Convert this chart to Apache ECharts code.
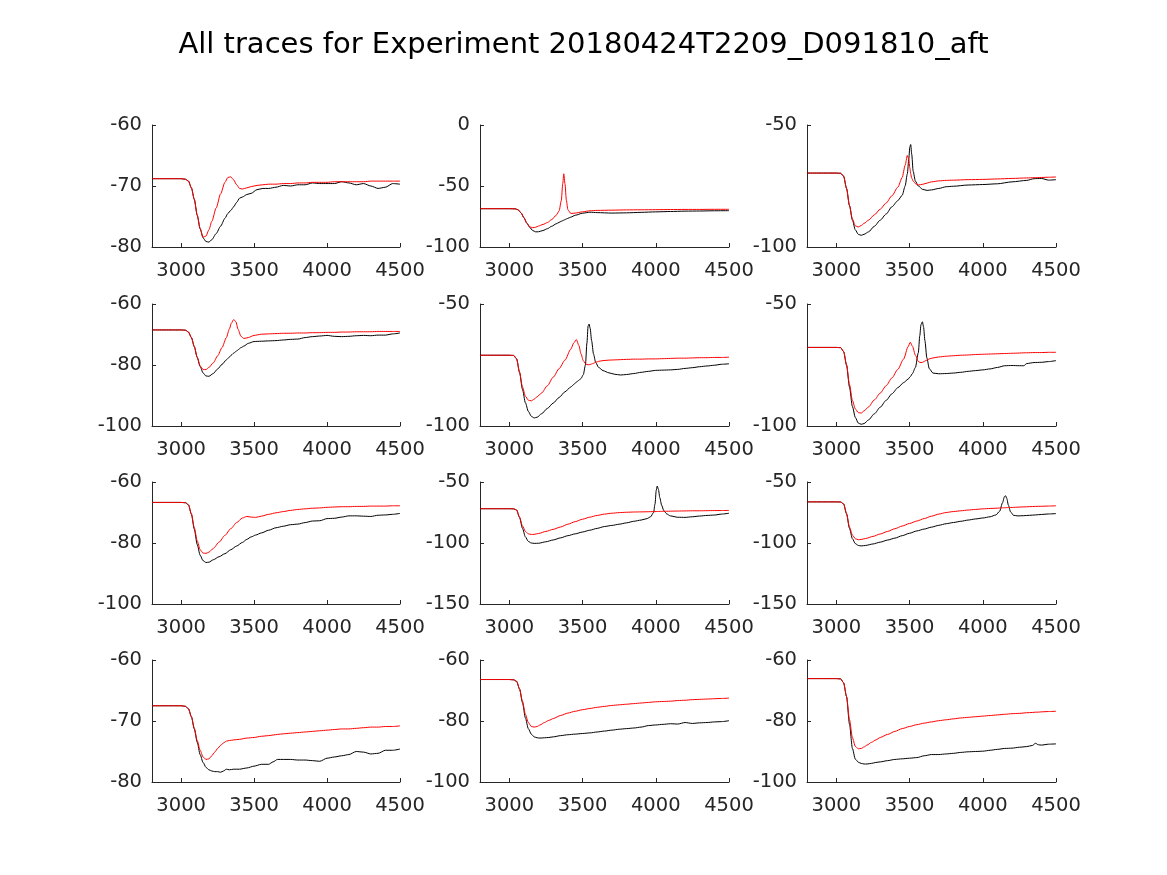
<!DOCTYPE html>
<html>
<head>
<meta charset="utf-8">
<script src="https://cdn.jsdelivr.net/npm/echarts@6/dist/echarts.min.js"></script>
<style>
html,body{margin:0;padding:0;background:#fff;}
#chart{width:1167px;height:875px;}
</style>
</head>
<body>
<div id="chart"></div>
<script>
const TITLE = "All traces for Experiment 20180424T2209_D091810_aft";
const X_TICKS = [3000, 3500, 4000, 4500];
const X_MIN = 2800, X_MAX = 4500;

// Panel 1 (row 1, col 1)
const x1 = [2800,3000,3030,3050,3070,3090,3110,3130,3150,3170,3190,3210,3240,3270,3300,3320,3340,3360,3380,3400,3420,3450,3480,3520,3560,3600,3650,3700,3750,3800,3850,3900,3950,4000,4050,4100,4150,4200,4250,4300,4350,4400,4450,4500];
const black1 = [-68.8,-68.8,-68.9,-69.2,-70.3,-72.2,-74.8,-77.0,-78.5,-79.1,-79.2,-78.8,-77.8,-76.6,-75.3,-74.5,-74.0,-73.4,-72.7,-72.0,-71.8,-71.4,-71.2,-70.6,-70.4,-70.4,-70.2,-69.9,-70.0,-69.8,-69.8,-69.5,-69.6,-69.6,-69.6,-69.3,-69.5,-69.8,-69.6,-70.0,-70.4,-70.2,-69.6,-69.7];
const red1 = [-68.8,-68.8,-68.9,-69.2,-70.3,-72.2,-74.8,-77.0,-78.4,-78.2,-77.2,-75.8,-73.6,-71.3,-69.4,-68.6,-68.5,-69.0,-69.8,-70.4,-70.5,-70.3,-70.1,-69.9,-69.8,-69.7,-69.7,-69.6,-69.6,-69.5,-69.5,-69.4,-69.4,-69.4,-69.3,-69.3,-69.3,-69.3,-69.3,-69.2,-69.2,-69.2,-69.2,-69.2];

// Panel 2 (row 1, col 2)
const x2 = [2800,3000,3040,3060,3080,3100,3120,3140,3160,3180,3200,3230,3260,3290,3320,3340,3355,3365,3372,3380,3390,3400,3420,3450,3500,3550,3600,3700,3800,3900,4000,4100,4200,4300,4400,4500];
const black2 = [-68.6,-68.6,-68.7,-69.5,-72,-76,-80.5,-84,-86.5,-87.6,-87.5,-86.5,-85,-83,-81,-79.8,-78.9,-78.4,-78.0,-77.6,-77.0,-76.5,-75.5,-74,-72.3,-71.5,-71.8,-72.2,-72.0,-71.6,-71.2,-70.9,-70.6,-70.5,-70.3,-70.2];
const red2 = [-68.6,-68.6,-68.7,-69.5,-72,-76,-80.5,-83.5,-84.2,-83.8,-82.8,-81.5,-80.0,-77.5,-74.0,-70.5,-62,-48,-40,-48,-62,-69.5,-72.5,-72.2,-71.2,-70.3,-70.0,-69.8,-69.6,-69.5,-69.4,-69.3,-69.2,-69.2,-69.1,-69.1];

// Panel 3 (row 1, col 3)
const x3 = [2800,3000,3030,3050,3070,3090,3110,3130,3150,3170,3190,3220,3260,3300,3340,3380,3420,3450,3470,3485,3495,3502,3508,3515,3525,3540,3560,3590,3620,3650,3700,3750,3800,3900,4000,4100,4200,4300,4350,4400,4450,4500];
const black3 = [-69.7,-69.7,-69.8,-71,-76,-83,-89,-93,-94.8,-95.2,-94.8,-93.8,-91.5,-89,-86.5,-83.5,-81,-78.8,-75,-70,-64,-59,-58,-62,-69,-73,-75,-76.4,-76.8,-76.6,-76,-75.3,-75.1,-74.6,-74.4,-74.1,-73.3,-72.7,-72.0,-71.9,-72.6,-72.4];
const red3 = [-69.7,-69.7,-69.8,-71,-76,-83,-88.5,-91.3,-91.8,-91.2,-90.3,-89.0,-86.8,-84.5,-82,-79,-75.5,-71.5,-66.5,-62.5,-64,-67.5,-70,-71.8,-73,-74,-74.6,-74.3,-73.8,-73.3,-72.9,-72.7,-72.6,-72.4,-72.3,-72.1,-71.9,-71.7,-71.6,-71.5,-71.4,-71.3];

// Panel 4 (row 2, col 1)
const x4 = [2800,3000,3030,3050,3070,3090,3110,3130,3150,3170,3190,3220,3250,3280,3310,3330,3345,3360,3375,3390,3410,3430,3460,3500,3550,3600,3650,3700,3750,3800,3850,3900,3950,4000,4050,4100,4150,4200,4250,4300,4350,4400,4450,4500];
const black4 = [-68.5,-68.5,-68.6,-69.2,-71,-74,-77.5,-80.5,-82.6,-83.6,-83.7,-82.8,-81.3,-79.8,-78.3,-77.4,-76.7,-76.1,-75.6,-75.0,-74.3,-73.8,-72.9,-72.3,-72.2,-72.1,-72.0,-71.8,-71.6,-71.5,-71.0,-70.7,-70.5,-70.3,-70.6,-70.7,-70.6,-70.4,-70.3,-70.4,-70.2,-70.2,-69.8,-69.5];
const red4 = [-68.5,-68.5,-68.6,-69.2,-71,-74,-77.5,-80.3,-81.5,-81.5,-80.8,-79.3,-77,-74.3,-71,-68.2,-66.2,-65.1,-65.8,-68.3,-70.6,-71.3,-71.0,-70.3,-69.9,-69.8,-69.7,-69.6,-69.6,-69.5,-69.5,-69.4,-69.4,-69.3,-69.3,-69.2,-69.2,-69.1,-69.1,-69.1,-69.0,-69.0,-69.0,-69.0];

// Panel 5 (row 2, col 2)
const x5 = [2800,3000,3030,3050,3070,3090,3110,3130,3150,3170,3190,3220,3260,3300,3340,3380,3420,3440,3458,3475,3490,3505,3520,3530,3538,3545,3552,3562,3575,3590,3610,3640,3680,3720,3760,3800,3850,3900,3950,4000,4050,4100,4150,4200,4250,4300,4350,4400,4450,4500];
const black5 = [-71,-71,-71.1,-72.5,-78,-85,-90.5,-94,-96,-96.7,-96.4,-95,-92.8,-90.6,-88.3,-86,-84,-83,-82,-81.3,-80.5,-79,-75,-66,-59,-58.2,-60,-65,-70.5,-74,-76,-77.3,-78.2,-78.8,-79.1,-78.9,-78.5,-78.0,-77.6,-77.2,-77.1,-77.0,-76.8,-76.4,-76.1,-75.7,-75.4,-75.1,-74.7,-74.5];
const red5 = [-71,-71,-71.1,-72.5,-78,-84,-87.8,-89.4,-89.7,-89,-88,-86.5,-83.5,-80,-76.5,-73,-68.5,-66,-64.6,-67,-70.5,-73.2,-74.5,-74.8,-74.9,-74.9,-74.8,-74.6,-74.3,-73.9,-73.5,-73.2,-73.0,-72.9,-72.8,-72.7,-72.6,-72.6,-72.5,-72.5,-72.4,-72.3,-72.2,-72.2,-72.1,-72.0,-72.0,-71.9,-71.9,-71.8];

// Panel 6 (row 2, col 3)
const x6 = [2800,3000,3030,3050,3070,3090,3110,3130,3150,3170,3190,3220,3260,3300,3340,3380,3420,3460,3490,3505,3520,3540,3560,3570,3578,3588,3596,3605,3618,3635,3660,3700,3750,3800,3850,3900,3950,4000,4050,4100,4150,4200,4250,4280,4300,4350,4400,4450,4500];
const black6 = [-67.8,-67.8,-67.9,-69.5,-75,-84,-92,-96.5,-98.8,-99.3,-99.0,-97.5,-95,-92.3,-89.5,-86.8,-84.3,-82.2,-80.8,-79.8,-78.5,-76,-70,-63,-58.5,-57.3,-59.5,-65,-72,-76.5,-78.3,-78.6,-78.5,-78.3,-78.0,-77.6,-77.3,-77.0,-76.6,-76.0,-75.3,-75.2,-75.3,-75.3,-74.4,-74.0,-73.9,-73.6,-73.2];
const red6 = [-67.8,-67.8,-67.9,-69.5,-75,-83,-89.5,-93,-94.5,-94.7,-93.8,-92.2,-89.3,-86.5,-83.5,-80.3,-76.8,-72.5,-67.5,-65.7,-67.3,-71,-73.5,-73.9,-74.0,-73.9,-73.7,-73.4,-73.0,-72.5,-72.1,-71.7,-71.4,-71.2,-71.0,-70.9,-70.7,-70.6,-70.5,-70.4,-70.3,-70.2,-70.1,-70.0,-70.0,-69.9,-69.9,-69.8,-69.8];

// Panel 7 (row 3, col 1)
const x7 = [2800,3000,3030,3050,3070,3090,3110,3130,3150,3170,3190,3220,3260,3300,3340,3380,3420,3450,3480,3510,3550,3600,3650,3700,3750,3800,3850,3900,3950,4000,4050,4100,4150,4200,4250,4300,4350,4400,4450,4500];
const black7 = [-66.7,-66.7,-66.8,-67.5,-70.5,-75.5,-80.5,-84,-85.8,-86.4,-86.3,-85.5,-84.5,-83.5,-82.2,-81,-79.8,-78.8,-78.0,-77.4,-76.7,-75.8,-75.0,-74.5,-74.0,-73.8,-73.3,-72.8,-72.7,-72.0,-71.9,-71.5,-71.1,-71.1,-71.2,-71.3,-70.9,-70.8,-70.6,-70.3];
const red7 = [-66.7,-66.7,-66.8,-67.5,-70.5,-75,-79.3,-82.2,-83.3,-83.4,-83.0,-81.8,-79.7,-77.5,-75.3,-73.3,-71.8,-71.3,-71.5,-71.6,-71.2,-70.6,-70.1,-69.7,-69.3,-69.0,-68.8,-68.6,-68.5,-68.3,-68.2,-68.1,-68.1,-68.0,-68.0,-67.9,-67.9,-67.9,-67.8,-67.8];

// Panel 8 (row 3, col 2)
const x8 = [2800,3000,3030,3050,3070,3090,3110,3130,3150,3170,3200,3250,3300,3350,3400,3450,3500,3550,3600,3650,3700,3750,3800,3850,3900,3940,3965,3985,3995,4003,4010,4018,4028,4040,4055,4075,4100,4150,4200,4250,4300,4350,4400,4450,4500];
const black8 = [-71.9,-71.9,-72,-73,-79,-88,-95,-98.7,-100,-100.3,-100.2,-99,-97.5,-95.8,-94,-92.5,-91,-89.5,-88,-86.5,-85.6,-84.6,-83.5,-82.2,-81.2,-80,-78.5,-75,-68,-57,-53.3,-56,-63,-69,-73.5,-76.2,-77.8,-78.9,-79.0,-78.5,-77.9,-77.4,-77.1,-76.3,-75.6];
const red8 = [-71.9,-71.9,-72,-73,-79,-86,-90.5,-92.5,-93,-92.9,-92.2,-90.5,-88.8,-86.9,-84.6,-82.5,-80.5,-78.8,-77.4,-76.3,-75.6,-75.1,-74.8,-74.6,-74.5,-74.4,-74.3,-74.3,-74.3,-74.2,-74.2,-74.2,-74.1,-74.1,-74.0,-74.0,-73.9,-73.8,-73.7,-73.6,-73.6,-73.5,-73.4,-73.4,-73.3];

// Panel 9 (row 3, col 3)
const x9 = [2800,3000,3030,3050,3070,3090,3110,3130,3150,3170,3200,3250,3300,3350,3400,3450,3500,3550,3600,3650,3700,3750,3800,3850,3900,3950,4000,4050,4090,4115,4135,4148,4156,4164,4175,4190,4210,4240,4280,4320,4360,4400,4450,4500];
const black9 = [-66.3,-66.3,-66.4,-68,-76,-88,-96.5,-100.5,-102,-102.4,-102.0,-100.8,-99.3,-97.6,-96.0,-94.0,-92.0,-90.1,-88.6,-87.0,-85.5,-84.2,-83.2,-82.2,-81.2,-80.3,-79.5,-78.5,-77,-74,-67,-62,-61.3,-63.5,-69,-74.5,-77.3,-77.8,-77.6,-77.3,-77.0,-76.6,-76.2,-75.9];
const red9 = [-66.3,-66.3,-66.4,-68,-76,-87,-93.5,-96.5,-97.3,-97.1,-96.3,-94.6,-92.6,-90.5,-88.3,-86.1,-84.0,-82.0,-80.0,-78.0,-76.3,-75.0,-74.2,-73.6,-73.0,-72.5,-72.0,-71.7,-71.5,-71.3,-71.2,-71.1,-71.1,-71.0,-71.0,-70.9,-70.8,-70.6,-70.4,-70.2,-70.0,-69.9,-69.7,-69.5];

// Panel 10 (row 4, col 1)
const x10 = [2800,3000,3030,3050,3070,3090,3110,3130,3150,3170,3190,3210,3230,3250,3270,3290,3310,3330,3360,3400,3450,3500,3550,3600,3630,3660,3700,3750,3800,3850,3900,3950,4000,4050,4100,4150,4200,4250,4300,4350,4400,4450,4500];
const black10 = [-67.5,-67.5,-67.6,-68,-69.3,-71.3,-73.5,-75.5,-76.8,-77.6,-78.0,-78.2,-78.3,-78.3,-78.4,-78.2,-77.9,-78.0,-77.9,-77.9,-77.7,-77.4,-77.1,-77.1,-76.7,-76.3,-76.3,-76.3,-76.4,-76.4,-76.5,-76.6,-76.1,-75.9,-75.7,-75.5,-75.0,-75.1,-75.4,-75.3,-74.8,-74.8,-74.6];
const red10 = [-67.5,-67.5,-67.6,-68,-69.3,-71.2,-73.2,-74.8,-75.9,-76.3,-76.2,-75.7,-75.1,-74.5,-74.0,-73.6,-73.3,-73.2,-73.1,-73.0,-72.8,-72.7,-72.5,-72.4,-72.3,-72.2,-72.1,-72.0,-71.9,-71.8,-71.7,-71.6,-71.5,-71.4,-71.3,-71.3,-71.2,-71.1,-71.0,-71.0,-70.9,-70.9,-70.8];

// Panel 11 (row 4, col 2)
const x11 = [2800,3000,3030,3050,3070,3090,3110,3130,3150,3170,3190,3210,3240,3270,3300,3350,3400,3450,3500,3550,3600,3650,3700,3750,3800,3850,3900,3950,4000,4050,4100,4150,4200,4250,4300,4350,4400,4450,4500];
const black11 = [-66.4,-66.4,-66.5,-67,-69.5,-74,-79,-82.5,-84.3,-85.2,-85.5,-85.6,-85.5,-85.4,-85.2,-84.8,-84.5,-84.3,-84.1,-83.9,-83.6,-83.3,-83.0,-82.7,-82.5,-82.3,-82.0,-81.5,-81.3,-81.1,-80.9,-81.0,-80.5,-80.8,-80.6,-80.5,-80.3,-80.2,-79.9];
const red11 = [-66.4,-66.4,-66.5,-67,-69.5,-73.5,-77.8,-80.5,-81.8,-82.0,-81.8,-81.3,-80.5,-79.8,-79.2,-78.2,-77.4,-76.8,-76.3,-75.9,-75.5,-75.2,-74.9,-74.7,-74.5,-74.3,-74.1,-73.9,-73.7,-73.6,-73.5,-73.3,-73.2,-73.0,-72.9,-72.8,-72.7,-72.6,-72.5];

// Panel 12 (row 4, col 3)
const x12 = [2800,3000,3030,3050,3070,3090,3110,3130,3150,3170,3190,3210,3240,3270,3300,3350,3400,3450,3500,3550,3600,3650,3700,3750,3800,3850,3900,3950,4000,4050,4100,4150,4200,4250,4300,4340,4360,4380,4400,4450,4500];
const black12 = [-66.1,-66.1,-66.2,-67.5,-72,-81,-89,-92.5,-93.5,-93.9,-94.1,-94.1,-93.9,-93.6,-93.4,-93.0,-92.6,-92.4,-92.2,-92.0,-91.4,-91.0,-91.0,-90.8,-90.6,-90.3,-90.1,-90.0,-89.9,-89.6,-89.3,-89.0,-88.9,-88.6,-88.4,-88.0,-87.3,-87.8,-87.9,-87.6,-87.5];
const red12 = [-66.1,-66.1,-66.2,-67.5,-72,-79.5,-85.5,-88.3,-89.1,-89.0,-88.5,-87.9,-87.0,-86.2,-85.4,-84.4,-83.4,-82.5,-81.8,-81.2,-80.7,-80.3,-79.9,-79.6,-79.3,-79.0,-78.8,-78.6,-78.4,-78.2,-78.0,-77.8,-77.6,-77.5,-77.3,-77.2,-77.1,-77.1,-77.0,-76.9,-76.8];

// Y-axis limits and tick steps per panel (row-major)
const yMins  = [-80, -100, -100, -100, -100, -100, -100, -150, -150, -80, -100, -100];
const yMaxs  = [-60,    0,  -50,  -60,  -50,  -50,  -60,  -50,  -50, -60,  -60,  -60];
const ySteps = [ 10,   50,   50,   20,   50,   50,   20,   50,   50,  10,   20,   20];

const xs = [x1,x2,x3,x4,x5,x6,x7,x8,x9,x10,x11,x12];
const blacks = [black1,black2,black3,black4,black5,black6,black7,black8,black9,black10,black11,black12];
const reds = [red1,red2,red3,red4,red5,red6,red7,red8,red9,red10,red11,red12];

const colLefts = [152, 480, 807];
const colWidths = [248, 249, 249];
const rowTops = [125, 304, 482, 660];
const rowHeight = 122;

const FONT = "DejaVu Sans";
const TXT = "#262626";
const TICK_FS = 19.5;

const grids = [], xAxes = [], yAxes = [], series = [];
function pairs(x, y){ return x.map((v,i)=>[v, y[i]]); }

for (let i = 0; i < 12; i++) {
  const r = Math.floor(i/3), c = i % 3;
  grids.push({left: colLefts[c], top: rowTops[r], width: colWidths[c], height: rowHeight, containLabel: false});
  xAxes.push({
    type: 'value', gridIndex: i, min: X_MIN, max: X_MAX,
    axisLine: {show: true, onZero: false, lineStyle: {color: TXT, width: 1}},
    axisTick: {show: true, inside: true, length: 4, customValues: X_TICKS, lineStyle: {color: TXT}},
    axisLabel: {show: true, customValues: X_TICKS, fontSize: TICK_FS, color: TXT, fontFamily: FONT, margin: 14,
                formatter: v => String(v)},
    splitLine: {show: false}
  });
  yAxes.push({
    type: 'value', gridIndex: i, min: yMins[i], max: yMaxs[i], interval: ySteps[i],
    axisLine: {show: true, onZero: false, lineStyle: {color: TXT, width: 1}},
    axisTick: {show: true, inside: true, length: 4, lineStyle: {color: TXT}},
    axisLabel: {show: true, fontSize: TICK_FS, color: TXT, fontFamily: FONT, margin: 10,
                formatter: v => String(v)},
    splitLine: {show: false}
  });
  series.push({
    type: 'line', xAxisIndex: i, yAxisIndex: i, data: pairs(xs[i], blacks[i]),
    showSymbol: false, smooth: 0.25, smoothMonotone: 'x',
    lineStyle: {color: '#000000', width: 1}, z: 2
  });
  series.push({
    type: 'line', xAxisIndex: i, yAxisIndex: i, data: pairs(xs[i], reds[i]),
    showSymbol: false, smooth: 0.25, smoothMonotone: 'x',
    lineStyle: {color: '#ff0000', width: 1}, z: 3
  });
}

const chart = echarts.init(document.getElementById('chart'), null, {renderer: 'canvas'});
chart.setOption({
  animation: false,
  backgroundColor: '#ffffff',
  title: {text: TITLE, left: 'center', top: 26, textStyle: {fontSize: 29, fontWeight: 'normal', color: '#000', fontFamily: FONT}},
  grid: grids,
  xAxis: xAxes,
  yAxis: yAxes,
  series: series
});
</script>
</body>
</html>
